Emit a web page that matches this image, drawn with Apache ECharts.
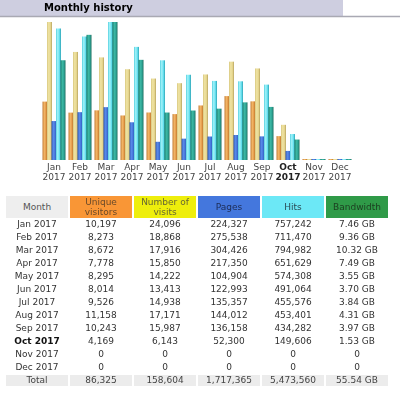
<!DOCTYPE html>
<html><head><meta charset="utf-8">
<script src="https://cdn.jsdelivr.net/npm/echarts@6/dist/echarts.min.js"></script>
<style>
html,body{margin:0;padding:0;background:#fff;}
body{width:400px;height:393px;overflow:hidden;position:relative;font-family:"DejaVu Sans",Verdana,sans-serif;}
#chart{position:absolute;left:0;top:0;width:400px;height:393px;}
#tbl{position:absolute;left:4px;top:196px;border-collapse:separate;border-spacing:2px 0;font-size:9px;color:#333;table-layout:fixed;}
#tbl td,#tbl th{width:62px;padding:0;text-align:center;height:13px;line-height:13px;white-space:nowrap;font-weight:normal;overflow:hidden;}
#tbl th{height:22px;line-height:10px;color:#555;}
#tbl tr.tot td{height:11px;line-height:11px;background:#ECECEC;border-top:1px solid #fff;color:#444;}
#tbl td.cur{font-weight:bold;color:#111;}
</style>
</head><body>
<div id="chart"></div>
<table id="tbl"></table>
<script>
const months = ['Jan','Feb','Mar','Apr','May','Jun','Jul','Aug','Sep','Oct','Nov','Dec'];
const year = '2017';
const currentMonth = 'Oct';
const visitors = [10197,8273,8672,7778,8295,8014,9526,11158,10243,4169,0,0];
const visits = [24096,18868,17916,15850,14222,13413,14938,17171,15987,6143,0,0];
const pages = [224327,275538,304426,217350,104904,122993,135357,144012,136158,52300,0,0];
const hits = [757242,711470,794982,651629,574308,491064,455576,453401,434282,149606,0,0];
const bandwidthGB = [7.46,9.36,10.32,7.49,3.55,3.70,3.84,4.31,3.97,1.53,0,0];
const headers = ['Month','Unique<br>visitors','Number of<br>visits','Pages','Hits','Bandwidth'];
const totals = ['86,325','158,604','1,717,365','5,473,560','55.54 GB'];

// ---- table ----
const headStyles = [
  'background:#EEEEEE;color:#555',
  'background:#F99636;color:#6a4a2a',
  'background:#EEEE0C;color:#666633',
  'background:#4477DD;color:#1d2c55',
  'background:#6CE8F6;color:#2a4a55',
  'background:#2F9A48;color:#1c3d20'
];
let html = '<tr>' + headers.map((h,i)=>'<th style="'+headStyles[i]+'">'+h+'</th>').join('') + '</tr>';
const fmt = v => v.toLocaleString('en-US');
months.forEach((m,i)=>{
  const bw = bandwidthGB[i] === 0 ? '0' : bandwidthGB[i].toFixed(2) + ' GB';
  html += '<tr><td class="'+(m===currentMonth?'cur':'')+'">'+m+' '+year+'</td><td>'+fmt(visitors[i])+'</td><td>'+fmt(visits[i])+'</td><td>'+fmt(pages[i])+'</td><td>'+fmt(hits[i])+'</td><td>'+bw+'</td></tr>';
});
html += '<tr class="tot"><td>Total</td>' + totals.map(t=>'<td>'+t+'</td>').join('') + '</tr>';
document.getElementById('tbl').innerHTML = html;

// ---- chart ----
const chart = echarts.init(document.getElementById('chart'), null, {renderer:'canvas'});
function grad(dark, light, base, edge){
  return new echarts.graphic.LinearGradient(0,0,1,0,[
    {offset:0,color:dark},{offset:0.35,color:light},{offset:0.7,color:base},{offset:1,color:edge}
  ]);
}
const barCommon = {type:'bar', barWidth:5, barGap:'-10%', barMinHeight:1, silent:true};
chart.setOption({
  animation:false,
  backgroundColor:'#fff',
  title:{text:'Monthly history', left:44, top:3, padding:0, textStyle:{fontFamily:'DejaVu Sans', fontWeight:'bold', fontSize:10, color:'#000'}},
  graphic:[
    {type:'rect', shape:{x:0,y:0,width:343,height:16}, style:{fill:'#CECEE0'}, z:-1},
    {type:'line', shape:{x1:0,y1:16.5,x2:400,y2:16.5}, style:{stroke:'#A9A9B3',lineWidth:1.5}, z:-1}
  ],
  grid:{left:41, right:47, top:22, bottom:233},
  xAxis:{type:'category', data:months, axisLine:{show:false}, axisTick:{show:false}, splitLine:{show:false},
    axisLabel:{interval:0, margin:3, fontFamily:'DejaVu Sans', fontSize:9, lineHeight:10, color:'#444',
      formatter:v => v===currentMonth ? '{b|'+v+'}\n{b|'+year+'}' : v+'\n'+year,
      rich:{b:{fontWeight:'bold', fontFamily:'DejaVu Sans', fontSize:9, lineHeight:10, color:'#222'}}}},
  yAxis:[
    {type:'value', show:false, min:0, max:Math.max(...visits)},
    {type:'value', show:false, min:0, max:Math.max(...hits)},
    {type:'value', show:false, min:0, max:Math.max(...bandwidthGB)}
  ],
  series:[
    Object.assign({}, barCommon, {name:'Unique visitors', yAxisIndex:0, data:visitors, itemStyle:{color:grad('#C07830','#F2B668','#E49A48','#A86420')}}),
    Object.assign({}, barCommon, {name:'Number of visits', yAxisIndex:0, data:visits, itemStyle:{color:grad('#D8C880','#F0E4A4','#E4D48C','#B8A460')}}),
    Object.assign({}, barCommon, {name:'Pages', yAxisIndex:1, data:pages, itemStyle:{color:grad('#2C56B0','#5A8AE8','#4477DD','#2A50A8')}}),
    Object.assign({}, barCommon, {name:'Hits', yAxisIndex:1, data:hits, itemStyle:{color:grad('#58D0E0','#A4F4FA','#62DCEC','#30A4B4')}}),
    Object.assign({}, barCommon, {name:'Bandwidth', yAxisIndex:2, data:bandwidthGB, itemStyle:{color:grad('#1C7A68','#3CB8A4','#2EA495','#1A6C5C')}})
  ]
});
</script>
</body></html>
